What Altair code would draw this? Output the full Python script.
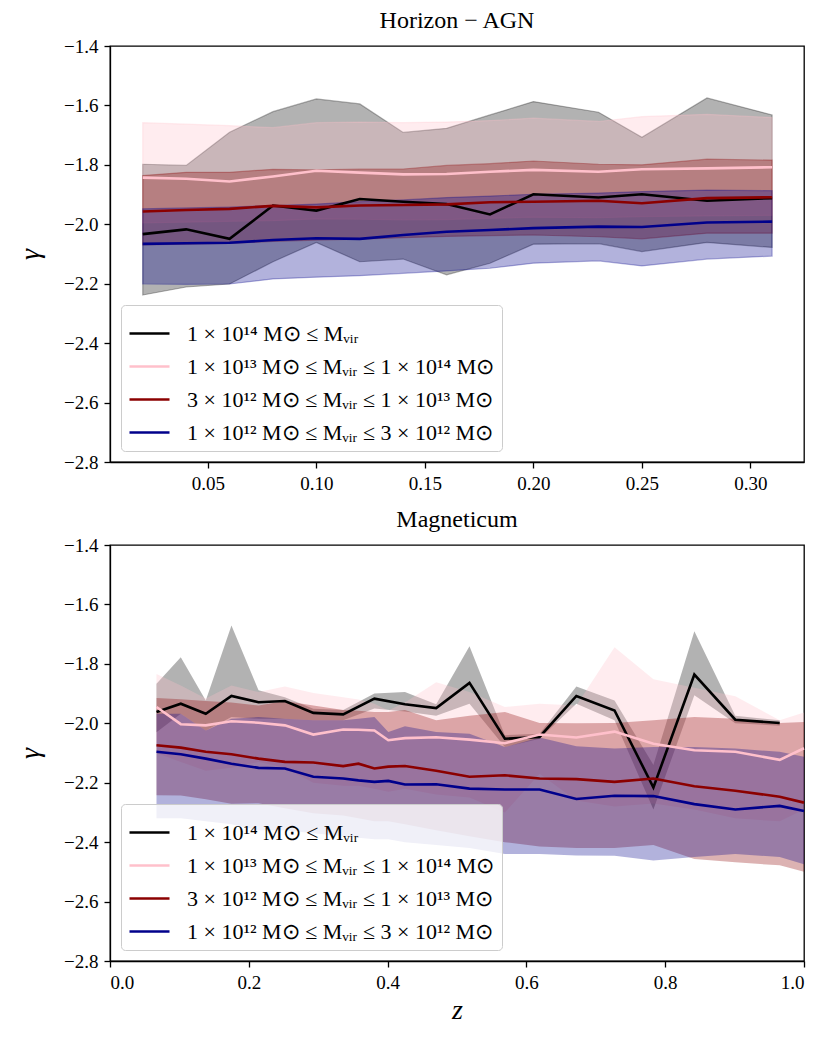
import altair as alt
import pandas as pd

LABELS = [
    "1 × 10¹⁴ M⊙ ≤ Mᵥᵢᵣ",
    "1 × 10¹³ M⊙ ≤ Mᵥᵢᵣ ≤ 1 × 10¹⁴ M⊙",
    "3 × 10¹² M⊙ ≤ Mᵥᵢᵣ ≤ 1 × 10¹³ M⊙",
    "1 × 10¹² M⊙ ≤ Mᵥᵢᵣ ≤ 3 × 10¹² M⊙",
]
COLORS = ["black", "pink", "darkred", "darkblue"]

# ---------------- Horizon-AGN ----------------
hz_x = [0.02, 0.04, 0.06, 0.08, 0.10, 0.12, 0.14, 0.16, 0.18, 0.20, 0.23, 0.25, 0.28, 0.31]

hz_black_med = [-2.033, -2.017, -2.049, -1.937, -1.954, -1.915, -1.924, -1.932, -1.967, -1.899, -1.910, -1.899, -1.921, -1.912]
hz_black_hi = [-1.798, -1.802, -1.690, -1.621, -1.578, -1.595, -1.691, -1.677, -1.632, -1.587, -1.623, -1.707, -1.575, -1.632]
hz_black_lo = [-2.238, -2.211, -2.201, -2.126, -2.061, -2.126, -2.117, -2.170, -2.131, -2.067, -2.065, -2.092, -2.061, -2.078]

hz_pink_med = [-1.843, -1.847, -1.856, -1.839, -1.820, -1.826, -1.832, -1.831, -1.823, -1.817, -1.823, -1.815, -1.812, -1.808]
hz_pink_hi = [-1.658, -1.663, -1.668, -1.675, -1.658, -1.656, -1.658, -1.656, -1.651, -1.643, -1.654, -1.638, -1.630, -1.641]
hz_pink_lo = [-1.995, -1.993, -1.990, -1.988, -1.982, -1.983, -1.985, -1.984, -1.980, -1.976, -1.978, -1.974, -1.972, -1.970]

hz_red_med = [-1.957, -1.952, -1.948, -1.938, -1.943, -1.937, -1.935, -1.933, -1.926, -1.924, -1.921, -1.929, -1.912, -1.909]
hz_red_hi = [-1.836, -1.825, -1.825, -1.815, -1.817, -1.814, -1.814, -1.802, -1.796, -1.787, -1.798, -1.800, -1.781, -1.784]
hz_red_lo = [-2.069, -2.067, -2.064, -2.058, -2.053, -2.050, -2.045, -2.041, -2.038, -2.036, -2.042, -2.049, -2.030, -2.030]

hz_blue_med = [-2.066, -2.064, -2.062, -2.053, -2.047, -2.049, -2.036, -2.025, -2.019, -2.013, -2.008, -2.009, -1.994, -1.991]
hz_blue_hi = [-1.948, -1.945, -1.942, -1.937, -1.932, -1.924, -1.918, -1.910, -1.905, -1.899, -1.895, -1.890, -1.885, -1.887]
hz_blue_lo = [-2.201, -2.202, -2.201, -2.184, -2.178, -2.173, -2.165, -2.157, -2.148, -2.131, -2.123, -2.140, -2.117, -2.107]

# ---------------- Magneticum ----------------
mg_x = [0.067, 0.102, 0.138, 0.175, 0.214, 0.252, 0.293, 0.336, 0.358, 0.381, 0.401, 0.425,
        0.470, 0.518, 0.569, 0.619, 0.672, 0.727, 0.783, 0.842, 0.901, 0.965, 1.0]

mg_black_med = [-1.962, -1.934, -1.968, -1.908, -1.929, -1.925, -1.965, -1.970, None, -1.917, None, -1.936,
                -1.949, -1.864, -2.052, -2.046, -1.908, -1.957, -2.216, -1.836, -1.988, -1.999, None]
mg_black_hi = [-1.867, -1.778, -1.923, -1.671, -1.889, -1.912, -1.951, -1.955, None, -1.900, None, -1.895,
               -1.936, -1.741, -2.040, -2.035, -1.876, -1.923, -2.140, -1.690, -1.975, -1.990, None]
mg_black_lo = [-2.030, -1.968, -2.024, -1.979, -1.985, -1.985, -1.990, -1.990, None, -1.950, None, -1.960,
               -1.975, -1.934, -2.080, -2.052, -1.934, -1.990, -2.290, -1.906, -2.000, -2.008, None]

mg_pink_med = [-1.945, -2.003, -2.007, -1.993, -1.998, -2.007, -2.038, -2.021, -2.022, -2.024, -2.057, -2.050,
               -2.047, -2.055, -2.067, -2.038, -2.048, -2.028, -2.069, -2.091, -2.096, -2.123, -2.084]
mg_pink_hi = [-1.834, -1.873, -1.917, -1.873, -1.895, -1.876, -1.898, -1.912, -1.920, -1.934, -1.957, -1.930,
              -1.862, -1.895, -1.945, -1.934, -1.940, -1.744, -1.852, -1.880, -1.909, -1.990, -1.964]
mg_pink_lo = [-2.100, -2.130, -2.160, -2.150, -2.130, -2.150, -2.200, -2.210, -2.210, -2.220, -2.230, -2.220,
              -2.240, -2.250, -2.300, -2.170, -2.260, -2.280, -2.270, -2.290, -2.320, -2.330, -2.290]

mg_red_med = [-2.074, -2.082, -2.096, -2.104, -2.119, -2.130, -2.132, -2.144, -2.136, -2.152, -2.146, -2.144,
              -2.160, -2.180, -2.175, -2.186, -2.188, -2.197, -2.186, -2.212, -2.227, -2.247, -2.267]
mg_red_hi = [-1.915, -1.919, -1.925, -1.930, -1.940, -1.925, -1.940, -1.955, -1.958, -1.962, -1.962, -1.955,
             -1.990, -1.975, -1.962, -1.999, -2.000, -1.999, -1.990, -1.979, -1.985, -1.999, -1.996]
mg_red_lo = [-2.242, -2.243, -2.256, -2.271, -2.269, -2.286, -2.303, -2.310, -2.320, -2.330, -2.330, -2.340,
             -2.360, -2.380, -2.400, -2.415, -2.420, -2.420, -2.410, -2.457, -2.468, -2.478, -2.500]

mg_blue_med = [-2.096, -2.104, -2.119, -2.136, -2.150, -2.152, -2.180, -2.186, -2.192, -2.197, -2.194, -2.206,
               -2.205, -2.220, -2.223, -2.223, -2.255, -2.244, -2.245, -2.272, -2.290, -2.278, -2.295]
mg_blue_hi = [-1.968, -1.968, -2.024, -1.985, -1.979, -1.985, -1.990, -1.990, -1.985, -1.979, -2.029, -2.010,
              -2.029, -2.035, -2.080, -2.048, -2.077, -2.085, -2.080, -2.080, -2.085, -2.096, -2.113]
mg_blue_lo = [-2.320, -2.320, -2.330, -2.340, -2.360, -2.360, -2.370, -2.380, -2.385, -2.390, -2.390, -2.400,
              -2.410, -2.420, -2.440, -2.440, -2.445, -2.446, -2.462, -2.450, -2.440, -2.450, -2.474]

Y_TICKS = [-2.8, -2.6, -2.4, -2.2, -2.0, -1.8, -1.6, -1.4]
HZ_TICKS = [0.05, 0.10, 0.15, 0.20, 0.25, 0.30]
MG_TICKS = [0.0, 0.2, 0.4, 0.6, 0.8, 1.0]

FONT = "Liberation Serif"


def build_df(x, series):
    rows = []
    for label, (med, hi, lo) in zip(LABELS, series):
        for xi, m, h, l in zip(x, med, hi, lo):
            if m is None:
                continue
            rows.append({"x": xi, "med": m, "hi": h, "lo": l, "series": label})
    return pd.DataFrame(rows)


def panel(df, title, xdomain, xticks, xfmt, xtitle, edge):
    xscale = alt.Scale(domain=xdomain, nice=False, zero=False)
    yscale = alt.Scale(domain=[-2.8, -1.4], nice=False, zero=False)
    xaxis_kw = dict(values=xticks, format=xfmt, grid=False)
    if xtitle:
        xaxis = alt.Axis(title=xtitle, titleFont=FONT, titleFontStyle="italic",
                         titleFontSize=28, titleFontWeight="normal", titlePadding=4, **xaxis_kw)
    else:
        xaxis = alt.Axis(title=None, **xaxis_kw)
    yaxis = alt.Axis(values=Y_TICKS, format=".1f", title="γ", titleFont=FONT,
                     titleFontStyle="italic", titleFontSize=28, titleFontWeight="normal",
                     titlePadding=19, grid=False)
    layers = []
    for label, col in zip(LABELS, COLORS):
        kw = dict(fill=col, fillOpacity=0.3)
        if edge:
            kw.update(stroke=col, strokeOpacity=0.3, strokeWidth=1.2)
        else:
            kw.update(strokeWidth=0)
        layers.append(
            alt.Chart(df).transform_filter(alt.datum.series == label).mark_area(**kw).encode(
                x=alt.X("x:Q", scale=xscale, axis=xaxis),
                y=alt.Y("lo:Q", scale=yscale, axis=yaxis),
                y2="hi:Q",
            )
        )
    lines = alt.Chart(df).mark_line(strokeWidth=2.6).encode(
        x=alt.X("x:Q", scale=xscale, axis=xaxis),
        y=alt.Y("med:Q", scale=yscale, axis=yaxis),
        stroke=alt.Stroke(
            "series:N",
            scale=alt.Scale(domain=LABELS, range=COLORS),
            legend=alt.Legend(
                title=None, orient="bottom-left", offset=11, symbolType="stroke",
                symbolSize=1600, symbolStrokeWidth=2.6, labelFont=FONT, labelFontSize=22,
                labelColor="black", fillColor="rgba(255,255,255,0.8)", strokeColor="#cccccc",
                cornerRadius=4, padding=7, rowPadding=-6, labelOffset=16, labelLimit=600,
            ),
        ),
    )
    layers.append(lines)
    return alt.layer(*layers).properties(
        width=694, height=416,
        title=alt.TitleParams(title, font=FONT, fontSize=24, fontWeight="normal",
                              color="black", offset=4),
    )


hz_df = build_df(hz_x, [
    (hz_black_med, hz_black_hi, hz_black_lo),
    (hz_pink_med, hz_pink_hi, hz_pink_lo),
    (hz_red_med, hz_red_hi, hz_red_lo),
    (hz_blue_med, hz_blue_hi, hz_blue_lo),
])
mg_df = build_df(mg_x, [
    (mg_black_med, mg_black_hi, mg_black_lo),
    (mg_pink_med, mg_pink_hi, mg_pink_lo),
    (mg_red_med, mg_red_hi, mg_red_lo),
    (mg_blue_med, mg_blue_hi, mg_blue_lo),
])

top = panel(hz_df, "Horizon − AGN", [0.0049, 0.3247], HZ_TICKS, ".2f", None, True)
bottom = panel(mg_df, "Magneticum", [0.0, 1.0], MG_TICKS, ".1f", "z", False)

chart = alt.vconcat(top, bottom, spacing=13).resolve_legend(
    stroke="independent"
).resolve_scale(
    x="independent", y="independent", stroke="independent"
).configure(
    padding={"left": 7, "top": 0, "right": 5, "bottom": 5}, background="white"
).configure_view(
    stroke="black", strokeWidth=1.3
).configure_axis(
    domainColor="black", domainWidth=1.3, tickColor="black", tickWidth=1.3, tickSize=6,
    labelFont=FONT, labelFontSize=19, labelColor="black", labelPadding=6, titleColor="black",
)

chart.save("out.html", embed_options={"renderer": "svg", "actions": False})
